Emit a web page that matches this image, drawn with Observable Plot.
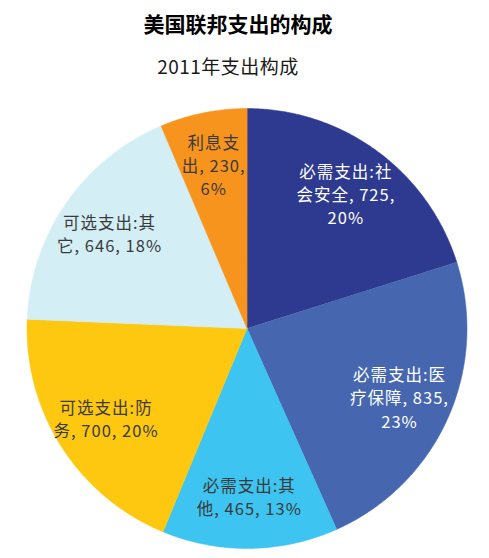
<!DOCTYPE html>
<html><head><meta charset="utf-8">
<script src="https://cdn.jsdelivr.net/npm/d3@7"></script>
<script src="https://cdn.jsdelivr.net/npm/@observablehq/plot@0.6"></script>
<style>
body{margin:0;background:#fff;font-family:"Noto Sans CJK SC","Noto Sans",sans-serif;}
#head{position:relative;width:489px;height:100px;}
#title{position:absolute;left:0;width:476px;top:10px;text-align:center;font-size:21px;font-weight:bold;line-height:26px;color:#000}
#sub{position:absolute;left:0;width:456px;top:53px;text-align:center;font-size:19px;line-height:26px;color:#1a1a1a;letter-spacing:0.5px}
#chart svg text{letter-spacing:1px}
</style></head><body>
<div id="head"><div id="title"></div><div id="sub"></div></div>
<div id="chart"></div>
<script>
const title = "美国联邦支出的构成";
const subtitle = "2011年支出构成";
const categories = ["必需支出:社会安全", "必需支出:医疗保障", "必需支出:其他", "可选支出:防务", "可选支出:其它", "利息支出"];
const values = [725, 835, 465, 700, 646, 230];
const labels = [
  "必需支出:社\n会安全, 725,\n20%",
  "必需支出:医\n疗保障, 835,\n23%",
  "必需支出:其\n他, 465, 13%",
  "可选支出:防\n务, 700, 20%",
  "可选支出:其\n它, 646, 18%",
  "利息支\n出, 230,\n6%"
];
const colors = ["#2E3A8F", "#4667B0", "#3DC4F0", "#FDC80F", "#D3EEF5", "#F7941D"];
const whiteText = [true, true, false, false, false, false];

document.getElementById("title").textContent = title;
document.getElementById("sub").textContent = subtitle;

const arcs = d3.pie().sort(null).value(d => d)(values);
const pt = (r, a) => [r * Math.sin(a), -r * Math.cos(a)];
const slices = arcs.map((a, i) => {
  const ring = [[0, 0]];
  const n = Math.max(2, Math.ceil((a.endAngle - a.startAngle) / (Math.PI / 360)));
  for (let k = 0; k <= n; ++k) ring.push(pt(1, a.startAngle + (a.endAngle - a.startAngle) * k / n));
  ring.push([0, 0]);
  return {type: "Feature", properties: {category: categories[i]}, geometry: {type: "Polygon", coordinates: [ring]}};
});
const circleRing = d3.range(0, 721).map(k => pt(1, k * Math.PI / 360));
const circle = {type: "Polygon", coordinates: [circleRing]};
const labelData = arcs.map((a, i) => {
  const [x, y] = pt(0.76, (a.startAngle + a.endAngle) / 2);
  return {x, y, text: labels[i], white: whiteText[i]};
});

const chart = Plot.plot({
  width: 489,
  height: 458,
  marginTop: 8,
  marginBottom: 10,
  marginLeft: 26.5,
  marginRight: 22.5,
  projection: {type: "identity", domain: circle},
  color: {domain: categories, range: colors},
  style: {fontFamily: '"Noto Sans CJK SC", "Noto Sans", sans-serif', background: "white"},
  marks: [
    Plot.geo(slices, {fill: d => d.properties.category, stroke: d => d.properties.category, strokeWidth: 0.5}),
    Plot.text(labelData, {filter: d => d.white, x: "x", y: "y", text: "text", fill: "white", fontSize: 16.5, lineHeight: 1.4}),
    Plot.text(labelData, {filter: d => !d.white, x: "x", y: "y", text: "text", fill: "#3a3a3a", fontSize: 16.5, lineHeight: 1.4})
  ]
});
document.getElementById("chart").appendChild(chart);
</script>
</body></html>
